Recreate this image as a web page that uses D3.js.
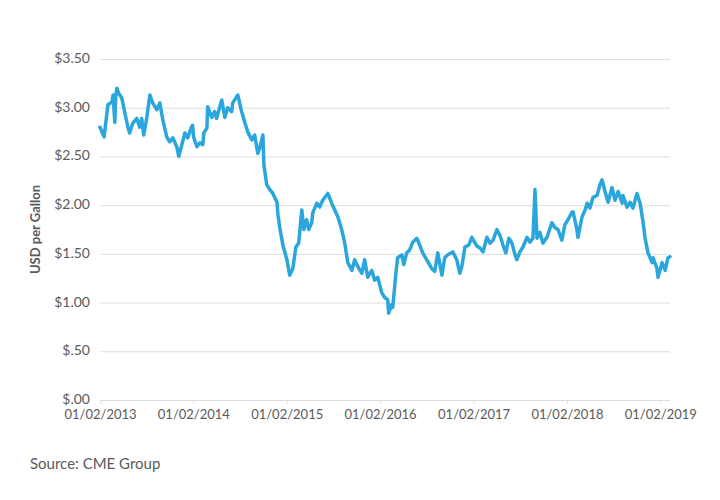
<!DOCTYPE html>
<html>
<head>
<meta charset="utf-8">
<script src="https://cdn.jsdelivr.net/npm/d3@7"></script>
<style>
  html, body { margin: 0; padding: 0; background: #fff; }
  svg { display: block; font-family: Lato, "Open Sans", sans-serif; }
</style>
</head>
<body>
<svg id="chart" width="720" height="500"></svg>
<script>
// ---- data ----
const dates = [
  "2013-01-02","2013-01-18","2013-02-02","2013-02-18","2013-02-22","2013-03-01","2013-03-04","2013-03-09","2013-03-16","2013-03-28",
  "2013-04-09","2013-04-21","2013-04-28","2013-05-10","2013-05-26","2013-06-06","2013-06-14","2013-06-22","2013-07-04","2013-07-16",
  "2013-07-27","2013-08-12","2013-08-24","2013-09-05","2013-09-20","2013-10-02","2013-10-14","2013-10-29","2013-11-06","2013-11-18",
  "2013-11-30","2013-12-11","2013-12-24","2013-12-30","2014-01-03","2014-01-16","2014-01-28","2014-02-08","2014-02-12","2014-02-24",
  "2014-02-27","2014-03-15","2014-03-26","2014-04-03","2014-04-23","2014-05-05","2014-05-16","2014-06-01","2014-06-05","2014-06-25",
  "2014-07-10","2014-07-22","2014-08-03","2014-08-19","2014-08-30","2014-09-11","2014-09-19","2014-10-01","2014-10-05","2014-10-16",
  "2014-10-28","2014-11-09","2014-11-25","2014-11-29","2014-12-06","2014-12-18","2015-01-03","2015-01-14","2015-01-26","2015-02-07",
  "2015-02-18","2015-03-02","2015-03-10","2015-03-21","2015-03-29","2015-04-10","2015-04-14","2015-04-30","2015-05-11","2015-05-23",
  "2015-06-12","2015-06-27","2015-07-09","2015-07-21","2015-08-05","2015-08-17","2015-08-29","2015-09-14","2015-09-25","2015-10-07",
  "2015-10-23","2015-11-03","2015-11-15","2015-12-01","2015-12-12","2015-12-24","2016-01-09","2016-01-21","2016-02-01","2016-02-05",
  "2016-02-17","2016-02-21","2016-03-04","2016-03-11","2016-03-27","2016-04-04","2016-04-15","2016-04-27","2016-05-09","2016-05-25",
  "2016-06-05","2016-06-17","2016-07-07","2016-07-22","2016-08-03","2016-08-15","2016-08-31","2016-09-11","2016-09-23","2016-10-13",
  "2016-10-28","2016-11-09","2016-11-17","2016-11-29","2016-12-14","2016-12-26","2017-01-15","2017-01-27","2017-02-08","2017-02-23",
  "2017-03-07","2017-03-19","2017-04-03","2017-04-15","2017-04-27","2017-05-08","2017-05-20","2017-06-01","2017-06-13","2017-06-20",
  "2017-07-02","2017-07-14","2017-07-30","2017-08-10","2017-08-22","2017-08-30","2017-09-07","2017-09-18","2017-09-30","2017-10-16",
  "2017-11-04","2017-11-16","2017-11-28","2017-12-13","2017-12-25","2018-01-06","2018-01-22","2018-01-26","2018-02-10","2018-02-14",
  "2018-03-02","2018-03-14","2018-03-22","2018-04-02","2018-04-14","2018-04-30","2018-05-11","2018-05-19","2018-05-31","2018-06-12",
  "2018-06-27","2018-07-09","2018-07-21","2018-08-06","2018-08-09","2018-08-25","2018-09-06","2018-09-17","2018-10-03","2018-10-15",
  "2018-10-27","2018-11-03","2018-11-15","2018-12-01","2018-12-05","2018-12-20","2018-12-24","2019-01-09","2019-01-21","2019-02-01",
  "2019-02-09"
];
const prices = [
  2.80,2.70,3.03,3.06,3.13,2.85,3.10,3.20,3.15,3.10,
  2.95,2.80,2.74,2.84,2.89,2.80,2.89,2.72,2.90,3.13,
  3.05,2.98,3.05,2.87,2.70,2.65,2.69,2.60,2.50,2.62,
  2.74,2.69,2.79,2.82,2.70,2.60,2.64,2.62,2.74,2.79,
  3.01,2.90,2.96,2.89,3.08,2.90,3.00,2.96,3.05,3.13,
  2.96,2.85,2.75,2.67,2.72,2.53,2.59,2.72,2.41,2.21,
  2.16,2.12,2.03,1.90,1.77,1.59,1.44,1.28,1.35,1.57,
  1.61,1.95,1.75,1.85,1.75,1.82,1.92,2.02,1.98,2.05,
  2.12,2.02,1.95,1.88,1.75,1.61,1.41,1.33,1.44,1.37,
  1.30,1.44,1.26,1.33,1.23,1.26,1.10,1.05,1.03,0.89,
  0.98,0.95,1.30,1.46,1.49,1.39,1.51,1.54,1.62,1.66,
  1.59,1.51,1.42,1.35,1.32,1.51,1.28,1.46,1.49,1.52,
  1.44,1.30,1.37,1.57,1.59,1.67,1.58,1.56,1.52,1.67,
  1.61,1.64,1.75,1.69,1.59,1.51,1.66,1.61,1.49,1.44,
  1.52,1.57,1.67,1.62,1.66,2.16,1.66,1.72,1.61,1.67,
  1.82,1.77,1.75,1.64,1.80,1.85,1.93,1.93,1.75,1.67,
  1.88,1.95,2.02,1.97,2.08,2.10,2.21,2.26,2.14,2.03,
  2.18,2.05,2.14,2.02,2.10,1.98,2.03,1.97,2.12,2.02,
  1.82,1.67,1.51,1.41,1.46,1.35,1.26,1.41,1.33,1.46,
  1.47
];
const xTickLabels = ["01/02/2013","01/02/2014","01/02/2015","01/02/2016","01/02/2017","01/02/2018","01/02/2019"];
const yTickValues = [0, 0.5, 1, 1.5, 2, 2.5, 3, 3.5];
const yTitle = "USD per Gallon";
const sourceText = "Source: CME Group";

// ---- drawing ----
(function () {
  const parse = d3.timeParse("%Y-%m-%d");
  const parseTick = d3.timeParse("%m/%d/%Y");
  const series = dates.map((d, i) => ({ date: parse(d), value: prices[i] }));

  const svg = d3.select("#chart");
  const mLeft = 100, mRight = 670, mTop = 59, mBottom = 400;

  const x = d3.scaleTime()
    .domain([parse("2013-01-02"), parse("2019-02-09")])
    .range([mLeft, mRight]);
  const y = d3.scaleLinear().domain([0, 3.5]).range([mBottom, mTop]);

  const textColor = "#5a5a5a";

  // gridlines + y labels
  const yAxis = d3.axisLeft(y)
    .tickValues(yTickValues)
    .tickSize(-(mRight - mLeft))
    .tickPadding(10)
    .tickFormat(v => "$" + d3.format(".2f")(v).replace(/^0/, ""));
  const gy = svg.append("g").attr("transform", `translate(${mLeft},0)`).call(yAxis);
  gy.select(".domain").remove();
  gy.selectAll(".tick line").attr("stroke", "#dedede").attr("stroke-width", 1);
  gy.selectAll(".tick text")
    .attr("fill", textColor)
    .attr("dy", "0.25em")
    .style("font-size", "14px")
    .style("font-family", "Lato, sans-serif");

  // x axis
  const xAxis = d3.axisBottom(x)
    .tickValues(xTickLabels.map(parseTick))
    .tickSize(4)
    .tickPadding(6)
    .tickFormat(d3.timeFormat("%m/%d/%Y"));
  const gx = svg.append("g").attr("transform", `translate(0,${mBottom})`).call(xAxis);
  gx.select(".domain").remove();
  gx.selectAll(".tick line").attr("stroke", "#dedede");
  gx.selectAll(".tick text")
    .attr("fill", textColor)
    .style("font-size", "13px")
    .style("font-family", "Lato, sans-serif");

  // line
  const line = d3.line()
    .x(d => x(d.date))
    .y(d => y(d.value));
  svg.append("path")
    .datum(series)
    .attr("fill", "none")
    .attr("stroke", "#2aa6dd")
    .attr("stroke-width", 3.5)
    .attr("stroke-linejoin", "round")
    .attr("stroke-linecap", "round")
    .attr("d", line);

  // y title
  svg.append("text")
    .attr("transform", `translate(40,${(mTop + mBottom) / 2}) rotate(-90)`)
    .attr("text-anchor", "middle")
    .attr("fill", textColor)
    .style("font-size", "13px")
    .style("font-weight", "bold")
    .text(yTitle);

  // source
  svg.append("text")
    .attr("x", 30)
    .attr("y", 469)
    .attr("fill", textColor)
    .style("font-size", "15px")
    .text(sourceText);
})();
</script>
</body>
</html>
